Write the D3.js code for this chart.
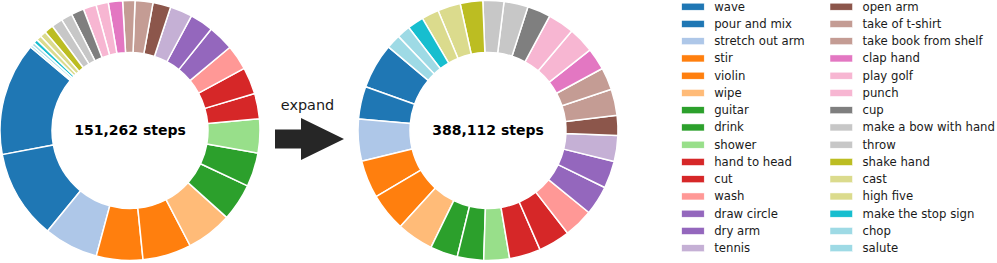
<!DOCTYPE html>
<html>
<head>
<meta charset="utf-8">
<script src="https://cdn.jsdelivr.net/npm/d3@7"></script>
<style>
  body { margin: 0; background: #fff; }
  svg { display: block; font-family: "DejaVu Sans", sans-serif; }
</style>
</head>
<body>
<svg id="chart" width="997" height="263"></svg>
<script>
// action names, in the order they are drawn and listed
const actions = ['wave', 'pour and mix', 'stretch out arm', 'stir', 'violin', 'wipe',
    'guitar', 'drink', 'shower', 'hand to head', 'cut', 'wash', 'draw circle', 'dry arm',
    'tennis', 'open arm', 'take of t-shirt', 'take book from shelf', 'clap hand', 'play golf',
    'punch', 'cup', 'make a bow with hand', 'throw', 'shake hand', 'cast', 'high five',
    'make the stop sign', 'chop', 'salute'];

// steps per action before expanding
const stepsBefore = [21300, 16800, 10200, 8740, 9160, 8610, 7020, 6390, 6390, 4750,
    5080, 4710, 4830, 4410, 4200, 3360, 3360, 2310, 2690, 2310,
    2440, 2400, 2100, 2100, 1720, 1130, 970, 760, 590, 420];

// steps per action after expanding
const stepsAfter = [21890, 15740, 20270, 18220, 18330, 17680, 13260, 12720, 12400, 15090,
    15310, 14120, 14120, 13150, 12510, 9600, 12720, 10780, 10570, 12510,
    12720, 11210, 11640, 10130, 10890, 11000, 8300, 7870, 6470, 6900];

const totalBefore = '151,262 steps';
const totalAfter = '388,112 steps';
const arrowLabel = 'expand';

// matplotlib tab20
const tab20 = ['#1f77b4', '#aec7e8', '#ff7f0e', '#ffbb78', '#2ca02c', '#98df8a', '#d62728', '#ff9896',
    '#9467bd', '#c5b0d5', '#8c564b', '#c49c94', '#e377c2', '#f7b6d2', '#7f7f7f', '#c7c7c7',
    '#bcbd22', '#dbdb8d', '#17becf', '#9edae5'];

const outerR = 130;
const innerR = outerR * 0.6;
const startDeg = 140; // matplotlib startangle, counter clockwise

var svg = d3.select('#chart');

//Color per action, same as sampling tab20 on a 0..1 linspace
function actionColor(i) {
    var k = Math.min(19, Math.floor(i / (actions.length - 1) * 20));
    return tab20[k];
}

//Draw one ring with the total in the middle
function drawRing(values, cx, cy, label) {
    var a0 = (90 - startDeg) * Math.PI / 180;
    var pie = d3.pie()
        .sort(null)
        .startAngle(a0)
        .endAngle(a0 - 2 * Math.PI);

    var arc = d3.arc()
        .innerRadius(innerR)
        .outerRadius(outerR);

    var g = svg.append('g')
        .attr('transform', 'translate(' + cx + ',' + cy + ')');

    g.selectAll('path')
        .data(pie(values))
        .enter().append('path')
        .attr('d', arc)
        .attr('fill', function(d, i) { return actionColor(i); })
        .attr('stroke', 'white')
        .attr('stroke-width', 1.5)
        .attr('stroke-linejoin', 'round');

    g.append('text')
        .attr('text-anchor', 'middle')
        .attr('dy', '0.35em')
        .attr('font-size', 14)
        .attr('font-weight', 'bold')
        .text(label);
}

drawRing(stepsBefore, 130, 130.5, totalBefore);
drawRing(stepsAfter, 488, 130.5, totalAfter);

//Arrow between the two rings
var arrow = svg.append('g').attr('transform', 'translate(275,139)');
arrow.append('path')
    .attr('d', 'M0,-9.5 L26,-9.5 L26,-21 L69,0 L26,21 L26,9.5 L0,9.5 Z')
    .attr('fill', '#262626');
svg.append('text')
    .attr('x', 307.5)
    .attr('y', 109.5)
    .attr('text-anchor', 'middle')
    .attr('font-size', 14.4)
    .attr('fill', '#1a1a1a')
    .text(arrowLabel);

//Legend, two columns
const rowsPerCol = 15;
const rowGap = 17.25;
var legend = svg.append('g');
var items = legend.selectAll('g')
    .data(actions)
    .enter().append('g')
    .attr('transform', function(d, i) {
        var col = Math.floor(i / rowsPerCol);
        var row = i % rowsPerCol;
        return 'translate(' + (681.7 + col * 148.3) + ',' + (6.7 + row * rowGap) + ')';
    });

items.append('rect')
    .attr('x', 0)
    .attr('y', -3.5)
    .attr('width', 22.5)
    .attr('height', 7)
    .attr('fill', function(d, i) { return actionColor(i); })
    .attr('stroke', 'white')
    .attr('stroke-width', 0.5);

items.append('text')
    .attr('x', 32.5)
    .attr('dy', '0.33em')
    .attr('font-size', 11.7)
    .attr('fill', '#1a1a1a')
    .text(function(d) { return d; });
</script>
</body>
</html>
